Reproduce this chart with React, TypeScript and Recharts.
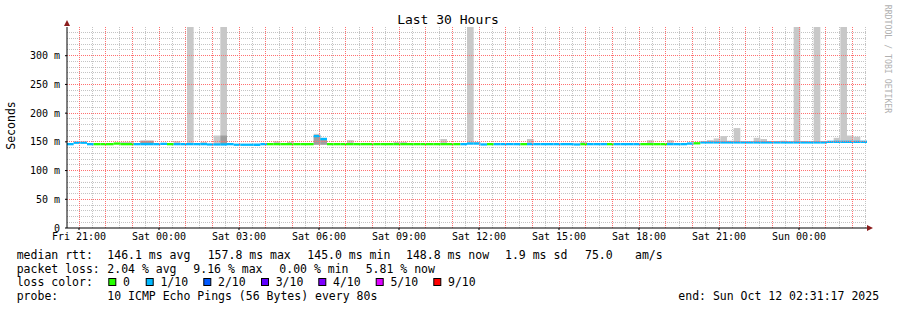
import { ComposedChart, Bar, Cell, XAxis, YAxis, CartesianGrid, ReferenceLine } from 'recharts';

// time axis: hours since Fri 00:00, one bin = 15 minutes
const START = 20.55;
const BIN = 0.25;

// median rtt per bin (ms)
const median = [
  146, 148.5, 148.5, 146, 146, 146, 146, 147, 146, 146,
  146, 146, 146, 146, 146.5, 146, 146, 146, 146, 146,
  146, 145.5, 145.5, 145.5, 146, 145, 145, 145, 145, 146,
  146, 146, 146, 146, 146, 146, 146, 160, 155, 146,
  146, 146, 146, 146, 146, 146, 146, 146, 146, 146,
  146, 146, 146, 146, 146, 146, 146, 146, 146, 146,
  147, 147, 145.5, 146, 146, 146, 146, 146, 146, 146,
  146, 146, 146, 146, 146, 146, 145.5, 146, 146, 146,
  146, 146, 146, 146, 146, 146, 146, 146, 146, 146,
  146, 146, 146, 147, 147.5, 149, 149, 149, 149, 149,
  149, 149, 149, 149, 149, 149, 149, 149, 149, 149,
  149, 149, 149, 149, 150, 150, 150, 150, 150, 150,
];

// lost pings out of 10 per bin
const loss = [
  1, 1, 1, 1, 0, 0, 0, 0, 0, 0,
  1, 1, 1, 1, 1, 0, 1, 1, 1, 1,
  1, 1, 1, 1, 1, 1, 1, 1, 1, 1,
  0, 0, 0, 0, 0, 0, 0, 1, 1, 0,
  0, 0, 0, 0, 0, 0, 0, 0, 0, 0,
  0, 0, 0, 0, 0, 0, 0, 0, 0, 1,
  1, 1, 1, 0, 1, 1, 1, 1, 0, 1,
  1, 1, 1, 1, 1, 1, 1, 0, 1, 1,
  1, 0, 1, 1, 1, 1, 0, 0, 0, 0,
  1, 1, 1, 1, 0, 1, 1, 1, 1, 1,
  1, 1, 1, 1, 1, 1, 1, 1, 1, 1,
  1, 1, 1, 1, 1, 1, 1, 1, 1, 1,
];

// top of the smoke (max rtt, ms), null = hidden behind the median
const smokeHi = [
  null, 150, 150, null, null, null, null, null, 150, 150,
  null, 152, 152, null, null, null, 151, null, 350, null,
  150, null, 161, 350, null, null, null, null, null, null,
  null, 151, null, 150, null, null, null, 164, 157, null,
  null, null, 153, null, null, null, null, null, null, 150,
  150, null, null, null, null, null, 155, null, null, null,
  350, 150, null, null, null, null, null, null, null, 155,
  null, null, null, null, null, null, null, 150, null, null,
  148, null, null, null, null, null, null, 153, null, null,
  153, null, null, null, null, null, 153, 156, 160, 152,
  174, 150, null, 157, 155, 151, 151, 152, null, 350,
  151, null, 350, 151, null, 157, 350, 161, 159, 152,
];

// bottom of the smoke where it shows below the median
const smokeLo: (number | null)[] = median.map(() => null);
smokeLo[37] = 145;
smokeLo[38] = 145;

// denser inner smoke
const smokeDark: (number | null)[] = median.map(() => null);
smokeDark[11] = 152;
smokeDark[12] = 152;
smokeDark[23] = 161;
smokeDark[37] = 160;
smokeDark[38] = 154;

const lossColors = ['#26ff00', '#00b8ff', '#0059ff', '#5e00ff', '#7e00ff', '#dd00ff', '#ff0000'];
const lossLabels = ['0', '1/10', '2/10', '3/10', '4/10', '5/10', '9/10'];

const xTicks = [21, 24, 27, 30, 33, 36, 39, 42, 45, 48];
const dayNames = ['Fri', 'Sat', 'Sun'];
const yTicks = [0, 50, 100, 150, 200, 250, 300];
// grid: gray every 10 ms / half hour, red every 50 ms / whole hour
const majorY = [50, 100, 150, 200, 250, 300];
const minorY = Array.from({ length: 35 }, (_, i) => (i + 1) * 10).filter((v) => v % 50 !== 0);
const majorX = Array.from({ length: 30 }, (_, i) => 21 + i);
const minorX = majorX.map((h) => h + 0.5);

const data = median.map((m, i) => {
  const lo = smokeLo[i] ?? m;
  return {
    t: START + (i + 0.5) * BIN,
    med: [m - 2, m + 2],
    smoke: [lo, smokeHi[i] ?? lo],
    dark: [lo, smokeDark[i] ?? lo],
    loss: loss[i],
  };
});

const END = START + median.length * BIN;
const mono = 'DejaVu Sans Mono';
const RED = '#ff7070';

const fmtTime = (h: number) =>
  `${dayNames[Math.floor(h / 24)]} ${String(h % 24).padStart(2, '0')}:00`;

const gridLine = (color: string) => (p: any) => (
  <line
    key={p.key}
    x1={p.x1}
    y1={p.y1}
    x2={p.x2}
    y2={p.y2}
    stroke={color}
    strokeDasharray="1 1"
    shapeRendering="crispEdges"
    fill="none"
  />
);

const legendRow1 = [
  [16.7, 'median rtt:'],
  [107.3, '146.1 ms avg'],
  [207.7, '157.8 ms max'],
  [307.3, '145.0 ms min'],
  [406, '148.8 ms now'],
  [505, '1.9 ms sd'],
  [585, '75.0'],
  [635, 'am/s'],
] as const;

const legendRow2 = [
  [16.7, 'packet loss:'],
  [107.3, '2.04 % avg'],
  [193.3, '9.16 % max'],
  [279.3, '0.00 % min'],
  [365.7, '5.81 % now'],
] as const;

const swatchX = [108.3, 145.7, 203.3, 261, 318.3, 375.7, 433.3];

export default function App() {
  return (
    <div style={{ position: 'absolute', left: 0, top: 0, width: 897, height: 310, background: '#fff' }}>
      <ComposedChart
        width={897}
        height={310}
        data={data}
        margin={{ top: 27, right: 30, bottom: 62, left: 7 }}
      >
        <CartesianGrid
          horizontalValues={minorY}
          verticalValues={minorX}
          horizontal={gridLine('#c4c4c4')}
          vertical={gridLine('#c4c4c4')}
        />
        {majorX.map((h) => (
          <ReferenceLine
            key={`mx${h}`}
            x={h}
            stroke={RED}
            strokeDasharray="1 1"
            shapeRendering="crispEdges"
          />
        ))}
        {majorY.map((v) => (
          <ReferenceLine
            key={`my${v}`}
            y={v}
            stroke={RED}
            strokeDasharray="1 1"
            shapeRendering="crispEdges"
          />
        ))}
        <XAxis
          dataKey="t"
          type="number"
          domain={[START, END]}
          allowDataOverflow
          ticks={xTicks}
          interval={0}
          tickFormatter={fmtTime}
          height={20}
          tickSize={2}
          tickMargin={3}
          axisLine={{ stroke: '#000' }}
          tickLine={{ stroke: '#000' }}
          tick={{ fontFamily: mono, fontSize: 10, fill: '#000' }}
        />
        <XAxis xAxisId="dark" dataKey="t" type="number" domain={[START, END]} allowDataOverflow hide />
        <XAxis xAxisId="med" dataKey="t" type="number" domain={[START, END]} allowDataOverflow hide />
        <YAxis
          type="number"
          domain={[0, 350]}
          allowDataOverflow
          ticks={yTicks}
          interval={0}
          width={60}
          tickSize={2}
          tickMargin={5}
          tickFormatter={(v: number) => (v === 0 ? '0' : `${v} m`)}
          axisLine={{ stroke: '#000' }}
          tickLine={{ stroke: '#000' }}
          tick={{ fontFamily: mono, fontSize: 10, fill: '#000' }}
        />
        <Bar dataKey="smoke" fill="#c8c8c8" barSize={6.66} isAnimationActive={false} />
        <Bar xAxisId="dark" dataKey="dark" fill="#9e9e9e" barSize={6.66} isAnimationActive={false} />
        <Bar xAxisId="med" dataKey="med" barSize={6.66} isAnimationActive={false}>
          {data.map((d, i) => (
            <Cell key={i} fill={lossColors[d.loss]} />
          ))}
        </Bar>
      </ComposedChart>
      <svg
        width={897}
        height={310}
        style={{ position: 'absolute', left: 0, top: 0, pointerEvents: 'none' }}
        fontFamily={mono}
      >
        <text x={448} y={24} fontSize={13} textAnchor="middle" fill="#000">
          Last 30 Hours
        </text>
        <text x={14.5} y={125.5} fontSize={11.5} textAnchor="middle" transform="rotate(-90 14.5 125.5)" fill="#000">
          Seconds
        </text>
        <text x={885} y={59} fontSize={8.2} textAnchor="middle" transform="rotate(90 885 59)" fill="#b0b0b0">
          RRDTOOL / TOBI OETIKER
        </text>
        <polygon points="64,26 70,26 67,20" fill="#8b1c1c" />
        <polygon points="867,225 867,231 873,228" fill="#8b1c1c" />
        <g fontSize={11.5} fill="#000">
          {legendRow1.map(([x, s]) => (
            <text key={s} x={x} y={258.5}>
              {s}
            </text>
          ))}
          {legendRow2.map(([x, s]) => (
            <text key={s} x={x} y={272.5}>
              {s}
            </text>
          ))}
          <text x={16.7} y={286}>loss color:</text>
          {lossLabels.map((l, i) => (
            <g key={l}>
              <rect x={swatchX[i] + 0.5} y={278.5} width={7} height={7} fill={lossColors[i]} stroke="#000" />
              <text x={swatchX[i] + 14.7} y={286}>
                {l}
              </text>
            </g>
          ))}
          <text x={16.7} y={300}>probe:</text>
          <text x={107.3} y={300}>10 ICMP Echo Pings (56 Bytes) every 80s</text>
          <text x={678.3} y={300}>end: Sun Oct 12 02:31:17 2025</text>
        </g>
      </svg>
    </div>
  );
}
